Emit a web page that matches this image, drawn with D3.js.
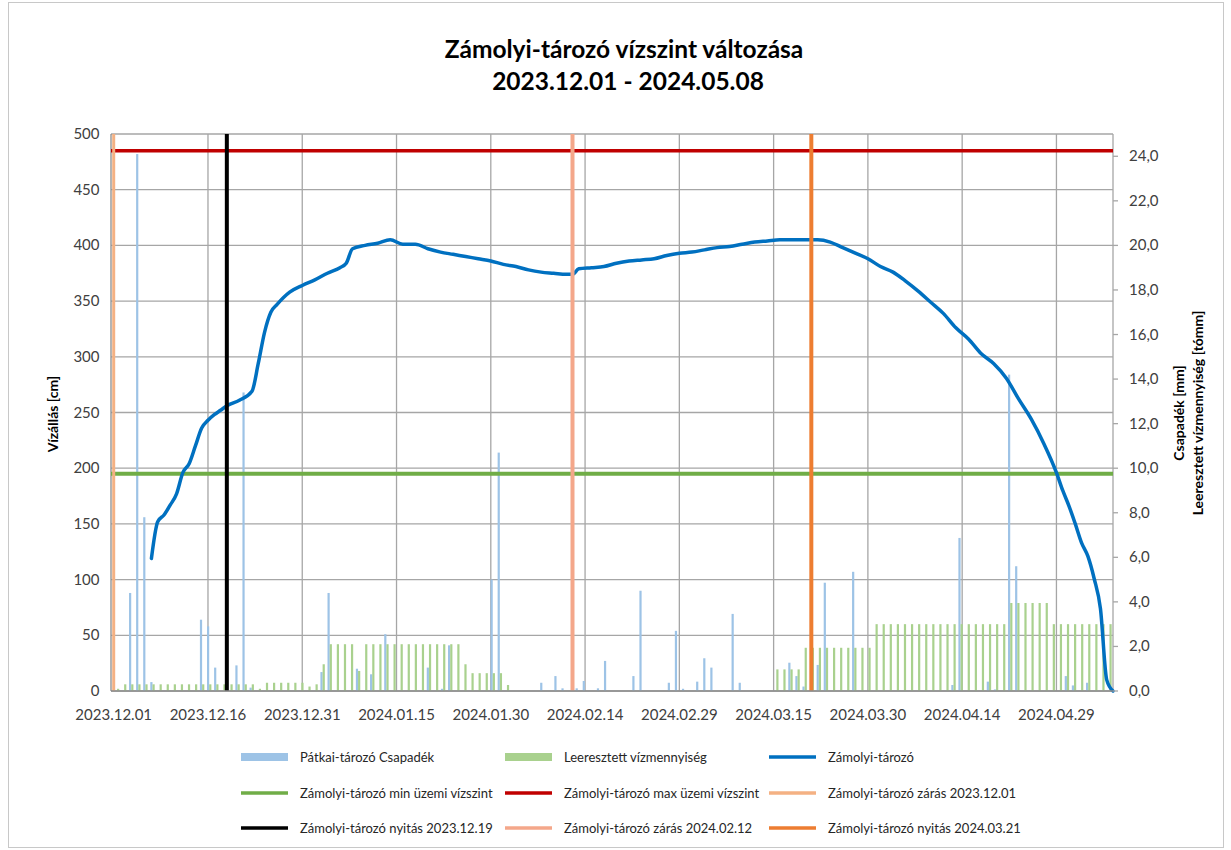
<!DOCTYPE html>
<html>
<head>
<meta charset="utf-8">
<script src="https://cdn.jsdelivr.net/npm/d3@7"></script>
<style>
body { margin: 0; background: #fff; }
text { font-family: Lato, "Liberation Sans", sans-serif; }
</style>
</head>
<body>
<script>
// vízszint (cm), bal tengely
var szintDatum = ["2023.12.07","2023.12.08","2023.12.09","2023.12.10","2023.12.11","2023.12.12","2023.12.13","2023.12.14",
  "2023.12.15","2023.12.16","2023.12.17","2023.12.18","2023.12.19","2023.12.21","2023.12.23","2023.12.24","2023.12.25",
  "2023.12.26","2023.12.27","2023.12.29","2023.12.31","2024.01.02","2024.01.04","2024.01.06","2024.01.07","2024.01.08",
  "2024.01.10","2024.01.12","2024.01.14","2024.01.16","2024.01.18","2024.01.20","2024.01.22","2024.01.24","2024.01.26",
  "2024.01.28","2024.01.30","2024.02.01","2024.02.03","2024.02.05","2024.02.07","2024.02.09","2024.02.11","2024.02.12",
  "2024.02.13","2024.02.15","2024.02.17","2024.02.19","2024.02.21","2024.02.23","2024.02.25","2024.02.27","2024.02.29",
  "2024.03.02","2024.03.04","2024.03.06","2024.03.08","2024.03.10","2024.03.12","2024.03.14","2024.03.16","2024.03.18",
  "2024.03.20","2024.03.22","2024.03.24","2024.03.26","2024.03.28","2024.03.30","2024.04.01","2024.04.03","2024.04.05",
  "2024.04.07","2024.04.09","2024.04.11","2024.04.13","2024.04.15","2024.04.17","2024.04.19","2024.04.21","2024.04.23",
  "2024.04.25","2024.04.27","2024.04.29","2024.04.30","2024.05.01","2024.05.02","2024.05.03","2024.05.04","2024.05.05",
  "2024.05.06","2024.05.07","2024.05.08"];
var szintErtek = [119,152,158,167,177,196,204,220,
  236,243,248,252,256,261,269,294,322,
  340,347,358,364,369,375,380,384,397,
  400,402,405,401,401,397,394,392,390,
  388,386,383,381,378,376,375,374,374,
  379,380,381,384,386,387,388,391,393,
  394,396,398,399,401,403,404,405,405,
  405,405,403,398,393,388,381,376,368,
  359,349,339,326,316,303,294,281,262,
  244,222,196,180,166,150,133,121,101,
  74,10,0];

// oszlopok (jobb tengely) - 141 kategória
var csapadek = [
  0,0,4.4,24.1,7.8,0.4,0,0,0,0, 0,0,3.2,2.9,1.05,0,0,1.15,13.4,0.15,
  0,0,0,0,0,0,0,0,0,0.85, 4.4,0,0,0,1.0,0,0.75,0,2.55,0,
  0,0,0,0,1.05,0,0.1,2.05,0,0, 0,0,0,5.0,10.7,0,0,0,0,0,
  0.37,0,0.67,0.12,0,0.12,0.45,0,0.12,1.35, 0,0,0,0.67,4.5,0,0,0,0.37,2.7,
  0.1,0,0.42,1.47,1.05,0,0,3.46,0.37,0, 0,0,0,0,0,1.27,0.67,0.2,0,1.17,
  4.86,0,0,0,5.35,0,0,0,0,0, 0,0,0,0,0,0,0,0,0.27,6.87,
  0,0,0,0.42,0.07,0,14.2,5.6,0,0, 0,0,0,0,0.67,0.25,0,0.37,0,0,
  0];
var leeresztett = [
  0.1,0.3,0.3,0.3,0.3,0.3,0.3,0.3,0.3,0.3, 0.3,0.3,0.3,0.3,0.3,0.3,0.3,0.3,0.3,0.3,
  0.1,0.37,0.37,0.37,0.37,0.37,0.37,0.2,0.3,1.2, 2.1,2.1,2.1,2.1,0.9,2.1,2.1,2.1,2.1,2.1,
  2.1,2.1,2.1,2.1,2.1,2.1,2.1,2.1,2.1,1.2, 0.8,0.8,0.8,0.8,0.8,0.27,0,0,0,0,
  0,0,0,0,0,0,0,0,0,0, 0,0,0,0,0,0,0,0,0,0,
  0,0,0,0,0,0,0,0,0,0, 0,0,0,0.97,0.97,0.97,0.97,1.94,1.94,1.94,
  1.94,1.94,1.94,1.94,1.94,1.94,1.94,3.0,3.0,3.0, 3.0,3.0,3.0,3.0,3.0,3.0,3.0,3.0,3.0,3.0,
  3.0,3.0,3.0,3.0,3.0,3.0,3.95,3.95,3.95,3.95, 3.95,3.95,3.0,3.0,3.0,3.0,3.0,3.0,3.0,3.0,
  3.0];

var xTickek = ["2023.12.01","2023.12.16","2023.12.31","2024.01.15","2024.01.30","2024.02.14",
  "2024.02.29","2024.03.15","2024.03.30","2024.04.14","2024.04.29"];
var balTickek = [0,50,100,150,200,250,300,350,400,450,500];
var jobbTickek = [0,2,4,6,8,10,12,14,16,18,20,22,24];

var minSzint = 195, maxSzint = 485;
var esemenyDatum = ["2023.12.01","2023.12.19","2024.02.12","2024.03.21"];
var esemenyNev = ["Zámolyi-tározó zárás 2023.12.01","Zámolyi-tározó nyitás 2023.12.19",
  "Zámolyi-tározó zárás 2024.02.12","Zámolyi-tározó nyitás 2024.03.21"];

var esemenySzin = ["#F4B183","#000000","#F4A78A","#ED7D31"];
var esemenyVastag = [3, 4, 4, 4];

var parse = d3.timeParse("%Y.%m.%d");

var W = 1231, H = 850;
var pBal = 111, pJobb = 1113, pFelso = 134, pAlso = 691;

var svg = d3.select("body").append("svg")
  .attr("width", W).attr("height", H);

svg.append("rect").attr("x", 8.5).attr("y", 2.5).attr("width", 1215).attr("height", 845)
  .attr("fill", "none").attr("stroke", "#c8c8c8");

var x = d3.scaleTime()
  .domain([new Date(2023, 10, 30, 13, 40), new Date(2024, 4, 8)])
  .range([pBal, pJobb]);
var xb = d3.scaleBand().domain(d3.range(csapadek.length)).range([113.5, pJobb]);
var yL = d3.scaleLinear().domain([0, 500]).range([pAlso, pFelso]);
var yR = d3.scaleLinear().domain([0, 25]).range([pAlso, pFelso]);

// rács
svg.append("g").selectAll("line").data(balTickek).enter().append("line")
  .attr("x1", pBal).attr("x2", pJobb)
  .attr("y1", function(d) { return yL(d); }).attr("y2", function(d) { return yL(d); })
  .attr("stroke", "#a6a6a6").attr("stroke-width", 1.3);
svg.append("g").selectAll("line").data(xTickek).enter().append("line")
  .attr("x1", function(d) { return x(parse(d)); }).attr("x2", function(d) { return x(parse(d)); })
  .attr("y1", pFelso).attr("y2", pAlso)
  .attr("stroke", "#a6a6a6").attr("stroke-width", 1.3);
svg.append("line").attr("x1", pBal).attr("x2", pBal).attr("y1", pFelso).attr("y2", pAlso)
  .attr("stroke", "#8c8c8c").attr("stroke-width", 1.3);
svg.append("line").attr("x1", pJobb).attr("x2", pJobb).attr("y1", pFelso).attr("y2", pAlso)
  .attr("stroke", "#a6a6a6").attr("stroke-width", 1.3);

// oszlopok
var bw = 2.2;
svg.append("g").selectAll("rect").data(csapadek).enter().append("rect")
  .attr("x", function(d, i) { return xb(i) + xb.bandwidth() / 2 - bw; })
  .attr("width", bw)
  .attr("y", function(d) { return yR(d); })
  .attr("height", function(d) { return pAlso - yR(d); })
  .attr("fill", "#9DC3E6");
svg.append("g").selectAll("rect").data(leeresztett).enter().append("rect")
  .attr("x", function(d, i) { return xb(i) + xb.bandwidth() / 2; })
  .attr("width", bw)
  .attr("y", function(d) { return yR(d); })
  .attr("height", function(d) { return pAlso - yR(d); })
  .attr("fill", "#A9D18E");

// üzemi vízszintek
svg.append("line").attr("x1", pBal).attr("x2", pJobb)
  .attr("y1", yL(minSzint)).attr("y2", yL(minSzint))
  .attr("stroke", "#70AD47").attr("stroke-width", 4);
svg.append("line").attr("x1", pBal).attr("x2", pJobb)
  .attr("y1", yL(maxSzint)).attr("y2", yL(maxSzint))
  .attr("stroke", "#C00000").attr("stroke-width", 3.5);

// vízszint görbe
var szint = szintDatum.map(function(d, i) { return {d: parse(d), v: szintErtek[i]}; });
var vonal = d3.line()
  .x(function(d) { return x(d.d); })
  .y(function(d) { return yL(d.v); })
  .curve(d3.curveMonotoneX);
svg.append("path").datum(szint).attr("d", vonal)
  .attr("fill", "none").attr("stroke", "#0070C0").attr("stroke-width", 3.5)
  .attr("stroke-linejoin", "round").attr("stroke-linecap", "round");

// zárás / nyitás
svg.append("g").selectAll("line").data(esemenyDatum).enter().append("line")
  .attr("x1", function(d) { return x(parse(d)); }).attr("x2", function(d) { return x(parse(d)); })
  .attr("y1", pFelso).attr("y2", pAlso)
  .attr("stroke", function(d, i) { return esemenySzin[i]; })
  .attr("stroke-width", function(d, i) { return esemenyVastag[i]; });

// tengelyek feliratai
svg.append("line").attr("x1", pBal).attr("x2", pJobb).attr("y1", pAlso).attr("y2", pAlso)
  .attr("stroke", "#8c8c8c").attr("stroke-width", 1.3);

svg.append("g").selectAll("text").data(balTickek).enter().append("text")
  .attr("x", 99.5).attr("y", function(d) { return yL(d) + 5; })
  .attr("text-anchor", "end").attr("font-size", 15).attr("fill", "#404040")
  .text(function(d) { return d; });

svg.append("g").selectAll("line").data(jobbTickek).enter().append("line")
  .attr("x1", pJobb).attr("x2", pJobb + 5)
  .attr("y1", function(d) { return yR(d); }).attr("y2", function(d) { return yR(d); })
  .attr("stroke", "#a6a6a6").attr("stroke-width", 1.3);
svg.append("g").selectAll("text").data(jobbTickek).enter().append("text")
  .attr("x", 1129).attr("y", function(d) { return yR(d) + 5; })
  .attr("font-size", 15).attr("fill", "#404040")
  .text(function(d) { return d3.format(".1f")(d).replace(".", ","); });

svg.append("g").selectAll("text").data(xTickek).enter().append("text")
  .attr("x", function(d) { return x(parse(d)); }).attr("y", 720)
  .attr("text-anchor", "middle").attr("font-size", 15).attr("fill", "#404040")
  .text(function(d) { return d; });

svg.append("text").attr("transform", "translate(58,414) rotate(-90)")
  .attr("text-anchor", "middle").attr("font-size", 14).attr("font-weight", "bold")
  .attr("fill", "#000").text("Vízállás [cm]");
svg.append("text").attr("transform", "translate(1184,413) rotate(-90)")
  .attr("text-anchor", "middle").attr("font-size", 14).attr("font-weight", "bold")
  .attr("fill", "#000").text("Csapadék [mm]");
svg.append("text").attr("transform", "translate(1203,413) rotate(-90)")
  .attr("text-anchor", "middle").attr("font-size", 14).attr("font-weight", "bold")
  .attr("fill", "#000").text("Leeresztett vízmennyiség [tómm]");

// cím
svg.append("text").attr("x", 624).attr("y", 58).attr("text-anchor", "middle")
  .attr("font-size", 24.5).attr("font-weight", "bold").attr("fill", "#000")
  .text("Zámolyi-tározó vízszint változása");
svg.append("text").attr("x", 628).attr("y", 90).attr("text-anchor", "middle")
  .attr("font-size", 24.5).attr("font-weight", "bold").attr("fill", "#000")
  .text("2023.12.01 - 2024.05.08");

// jelmagyarázat
var jelNev = ["Pátkai-tározó Csapadék", "Leeresztett vízmennyiség", "Zámolyi-tározó",
  "Zámolyi-tározó min üzemi vízszint", "Zámolyi-tározó max üzemi vízszint", esemenyNev[0],
  esemenyNev[1], esemenyNev[2], esemenyNev[3]];
var jelSzin = ["#9DC3E6", "#A9D18E", "#0070C0", "#70AD47", "#C00000",
  esemenySzin[0], esemenySzin[1], esemenySzin[2], esemenySzin[3]];
var jelTipus = ["bar", "bar", "line", "line", "line", "line", "line", "line", "line"];
var oszlopX = [300, 564, 828], sorY = [757, 793, 828];

var jel = svg.append("g").selectAll("g").data(jelNev).enter().append("g")
  .attr("transform", function(d, i) { return "translate(" + oszlopX[i % 3] + "," + sorY[Math.floor(i / 3)] + ")"; });
jel.each(function(d, i) {
  var g = d3.select(this);
  if (jelTipus[i] == "bar") {
    g.append("rect").attr("x", -59).attr("y", -4).attr("width", 47).attr("height", 8).attr("fill", jelSzin[i]);
  } else {
    g.append("line").attr("x1", -59).attr("x2", -12).attr("y1", 0).attr("y2", 0)
      .attr("stroke", jelSzin[i]).attr("stroke-width", 3.5);
  }
  g.append("text").attr("x", 0).attr("y", 4.5).attr("font-size", 13).attr("fill", "#262626").text(d);
});
</script>
</body>
</html>
